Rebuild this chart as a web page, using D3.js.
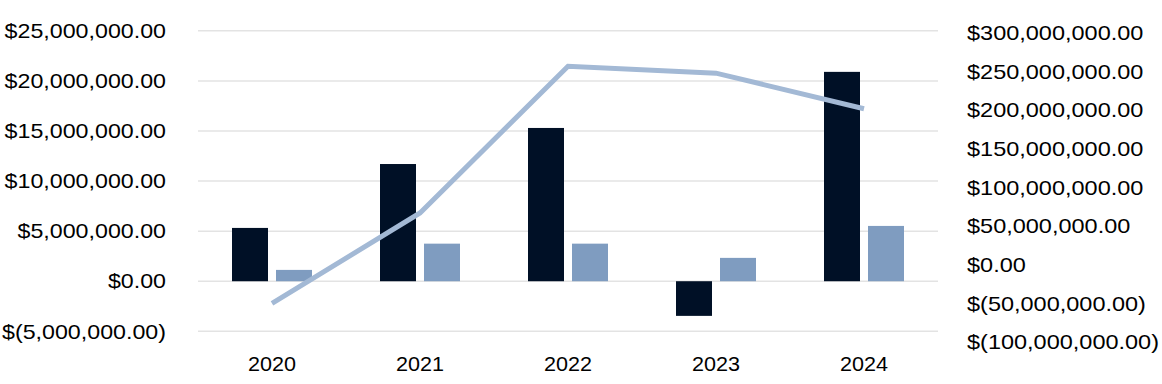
<!DOCTYPE html>
<html>
<head>
<meta charset="utf-8">
<script src="https://cdn.jsdelivr.net/npm/d3@7"></script>
<style>
  body { margin: 0; background: #fff; }
</style>
</head>
<body>
<svg id="chart" width="1162" height="384"></svg>
<script>
// Data
const years = ["2020", "2021", "2022", "2023", "2024"];
const seriesNames = ["a", "b"];
const seriesA = [5320000, 11700000, 15300000, -3460000, 20900000];
const seriesB = [1130000, 3750000, 3750000, 2330000, 5520000];
const lineValues = [-50000000, 67000000, 257000000, 248000000, 202000000];
const leftTicks = [-5000000, 0, 5000000, 10000000, 15000000, 20000000, 25000000];
const rightTicks = [-100000000, -50000000, 0, 50000000, 100000000, 150000000, 200000000, 250000000, 300000000];

const svg = d3.select("#chart");
const plotLeft = 198, plotRight = 938;

const colors = { a: "#001026", b: "#7f9cc0", line: "#a3b9d5" };

const x0 = d3.scaleBand()
    .domain(years)
    .range([plotLeft, plotRight]);

const x1 = d3.scaleBand()
    .domain(seriesNames)
    .range([34, 114])
    .paddingInner(8 / 44);

const yLeft = d3.scaleLinear()
    .domain([-5000000, 25000000])
    .range([331.3, 30.8]);

const yRight = d3.scaleLinear()
    .domain([-100000000, 300000000])
    .range([342, 33]);

// Money format with parentheses for negatives
const money = v => {
    const s = d3.format(",.2f")(Math.abs(v));
    return v < 0 ? `$(${s})` : `$${s}`;
};

// style axis text the same everywhere; stretch a bit so the widest label
// of each axis is as wide as in the picture
const styleText = (sel, widest) => {
    sel.style("font-family", "'Liberation Sans', Arial, sans-serif")
        .style("font-size", "21px")
        .style("fill", "#000");
    let maxW = 0;
    sel.each(function() { maxW = Math.max(maxW, this.getComputedTextLength()); });
    const k = widest / maxW;
    sel.each(function() {
        d3.select(this)
            .attr("textLength", this.getComputedTextLength() * k)
            .attr("lengthAdjust", "spacingAndGlyphs");
    });
};

// Gridlines
svg.append("g")
    .selectAll("line")
    .data(leftTicks)
    .join("line")
    .attr("x1", plotLeft)
    .attr("x2", plotRight)
    .attr("y1", d => yLeft(d))
    .attr("y2", d => yLeft(d))
    .attr("stroke", "#e3e3e3")
    .attr("stroke-width", 1.5);

// Left axis labels
const leftAxis = d3.axisLeft(yLeft).tickValues(leftTicks).tickFormat(money).tickSize(0).tickPadding(0);
svg.append("g")
    .attr("transform", "translate(166,0)")
    .call(leftAxis)
    .call(g => g.select(".domain").remove())
    .selectAll("text")
    .call(styleText, 164);

// Right axis labels
const rightAxis = d3.axisRight(yRight).tickValues(rightTicks).tickFormat(money).tickSize(0).tickPadding(0);
svg.append("g")
    .attr("transform", "translate(967,0)")
    .call(rightAxis)
    .call(g => g.select(".domain").remove())
    .selectAll("text")
    .call(styleText, 192);

// Bottom axis labels
const bottomAxis = d3.axisBottom(x0).tickSize(0).tickPadding(0);
svg.append("g")
    .attr("transform", "translate(0,356)")
    .call(bottomAxis)
    .call(g => g.select(".domain").remove())
    .selectAll("text")
    .call(styleText, 48);

// Bars
const barData = years.map((y, i) => ({ year: y, values: [
    { key: "a", value: seriesA[i] },
    { key: "b", value: seriesB[i] }
] }));

svg.append("g")
    .selectAll("g")
    .data(barData)
    .join("g")
    .attr("transform", d => `translate(${x0(d.year)},0)`)
    .selectAll("rect")
    .data(d => d.values)
    .join("rect")
    .attr("x", d => x1(d.key))
    .attr("width", x1.bandwidth())
    .attr("y", d => yLeft(Math.max(0, d.value)))
    .attr("height", d => Math.abs(yLeft(d.value) - yLeft(0)))
    .attr("fill", d => colors[d.key]);

// Line on secondary axis
const line = d3.line()
    .x((d, i) => x0(years[i]) + x0.bandwidth() / 2)
    .y(d => yRight(d));

svg.append("path")
    .datum(lineValues)
    .attr("d", line)
    .attr("fill", "none")
    .attr("stroke", colors.line)
    .attr("stroke-width", 5);
</script>
</body>
</html>
